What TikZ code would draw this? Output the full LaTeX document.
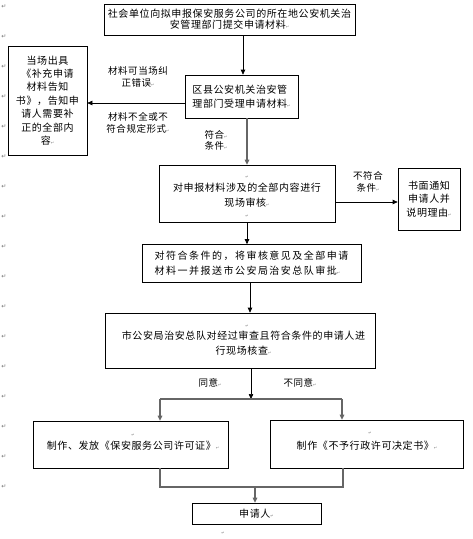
\documentclass[tikz,border=0pt]{standalone}
\usepackage{fontspec}
\usetikzlibrary{arrows.meta}
\newfontfamily\cjk[LetterSpace=6]{Noto Sans CJK SC}
\newfontfamily\cjkw[LetterSpace=15]{Noto Sans CJK SC}
\newfontfamily\mkfont{DejaVu Sans}
\newcommand\pmk{{\mkfont\fontsize{4}{4}\selectfont\textcolor{gray}{↵}}}
\begin{document}
\begin{tikzpicture}[x=1pt,y=-1pt,
  box/.style={draw=black, line width=0.7pt, inner sep=0pt, align=center,
    font=\cjk\fontsize{10}{15}\selectfont},
  lbl/.style={inner sep=0pt, align=center, font=\cjk\fontsize{9.5}{11.5}\selectfont},
  arr/.style={line width=0.7pt, -{Triangle[length=5pt,width=4.5pt]}},
  garr/.style={line width=1.1pt, draw=black!60, -{Triangle[length=5pt,width=4.5pt]}},
  gline/.style={line width=1.1pt, draw=black!60},
  mk/.style={inner sep=0pt, text=gray, font=\mkfont\fontsize{4}{4}\selectfont},
  lm/.style={inner sep=0pt, text=black!55, font=\mkfont\fontsize{6}{6}\selectfont}]
\useasboundingbox (0,0) rectangle (472,539);
\fill[white] (0,0) rectangle (472,539);
% left margin paragraph marks
\foreach \i in {0,...,16}{\node[lm] (lm\i) at (4,{7+30*\i}) {↵};}
% boxes
\node[box, minimum width=251pt, minimum height=31pt, font=\cjk\fontsize{10}{11}\selectfont] (n1) at (229.5,19.5)
  {社会单位向拟申报保安服务公司的所在地公安机关治\\安管理部门提交申请材料\pmk};
\node[box, minimum width=113pt, minimum height=43pt, align=left, font=\cjk\fontsize{10}{14}\selectfont] (n2) at (241.5,96.5)
  {区县公安机关治安管\\理部门受理申请材料\pmk};
\node[box, minimum width=79pt, minimum height=109pt, font=\cjk\fontsize{10}{13.4}\selectfont] (n3) at (47.5,100.5)
  {当场出具\\《补充申请\\材料告知\\书》，告知申\\请人需要补\\正的全部内\\容\pmk};
\node[box, minimum width=176pt, minimum height=57pt] (n4) at (247,193.5) {};
\node[inner sep=0pt, align=center, font=\cjk\fontsize{10}{15}\selectfont] (t4) at (247,195.5)
  {对申报材料涉及的全部内容进行\\现场审核\pmk};
\node[mk] (m4a) at (247,177) {↵};
\node[mk] (m4b) at (247,216) {↵};
\node[box, minimum width=62pt, minimum height=62pt, font=\cjk\fontsize{10}{13.5}\selectfont] (n5) at (429,199)
  {书面通知\\申请人并\\说明理由\pmk};
\node[box, minimum width=219pt, minimum height=38pt, align=left, font=\cjkw\fontsize{10}{15}\selectfont] (n6) at (251.5,263.5)
  {对符合条件的，将审核意见及全部申请\\材料一并报送市公安局治安总队审批\pmk};
\node[box, minimum width=270pt, minimum height=55pt] (n7) at (240,340.5) {};
\node[inner sep=0pt, align=center, font=\cjk\fontsize{10}{15}\selectfont] (t7) at (243.5,343.5)
  {市公安局治安总队对经过审查且符合条件的申请人进\\行现场核查\pmk};
\node[mk] (m7) at (247,326) {↵};
\node[box, minimum width=195pt, minimum height=47pt] (n8) at (130.5,444.5) {};
\node[inner sep=0pt, font=\cjk\fontsize{10}{15}\selectfont] (t8) at (133,446)
  {制作、发放《保安服务公司许可证》\pmk};
\node[mk] (m8) at (133,435) {↵};
\node[box, minimum width=193pt, minimum height=48pt] (n9) at (366.5,444) {};
\node[inner sep=0pt, font=\cjk\fontsize{10}{15}\selectfont] (t9) at (367,446)
  {制作《不予行政许可决定书》\pmk};
\node[mk] (m9) at (370,433) {↵};
\node[box, minimum width=129pt, minimum height=21pt] (n10) at (256.5,513.5) {申请人\pmk};
\node[mk] (m10) at (223,533) {↵};
% labels
\node[lbl] (l1) at (138,77) {材料可当场纠\\正错误\pmk};
\node[lbl] (l2) at (138,123) {材料不全或不\\符合规定形式\pmk};
\node[lbl] (l3) at (216,140.5) {符合\pmk\\条件\pmk};
\node[lbl] (l4) at (368,182) {不符合\\条件\pmk};
\node[lbl] (l5) at (210,383) {同意\pmk};
\node[lbl] (l6) at (300,383) {不同意\pmk};
% helper coordinates
\coordinate (x243) at (243,0);
\coordinate (x247) at (247,0);
\coordinate (x250) at (250,0);
\coordinate (x251) at (251,0);
\coordinate (y103) at (0,103);
\coordinate (y202) at (0,202);
\coordinate (sL) at (160,399);
\coordinate (sR) at (342,399);
\coordinate (sM) at (251,399);
\coordinate (jL) at (160,487);
\coordinate (jR) at (343,487);
\coordinate (jM) at (255,487);
% connectors
\draw[arr] (n1.south -| x243) -- (n2.north -| x243);
\draw[arr] (n2.west |- y103) -- (n3.east |- y103);
\draw[garr] (n2.south -| x247) -- (n4.north -| x247);
\draw[arr] (n4.east |- y202) -- (n5.west |- y202);
\draw[arr] (n4.south -| x247) -- (n6.north -| x247);
\draw[arr] (n6.south -| x250) -- (n7.north -| x250);
\draw[arr] (n7.south -| x251) -- (sM);
\draw[gline] (sL) -- (sR);
\draw[garr] (sL) -- (n8.north -| sL);
\draw[garr] (sR) -- (n9.north -| sR);
\draw[gline] (n8.south -| jL) -- (jL) -- (jR) -- (n9.south -| jR);
\draw[garr] (jM) -- (n10.north -| jM);
\end{tikzpicture}
\end{document}
